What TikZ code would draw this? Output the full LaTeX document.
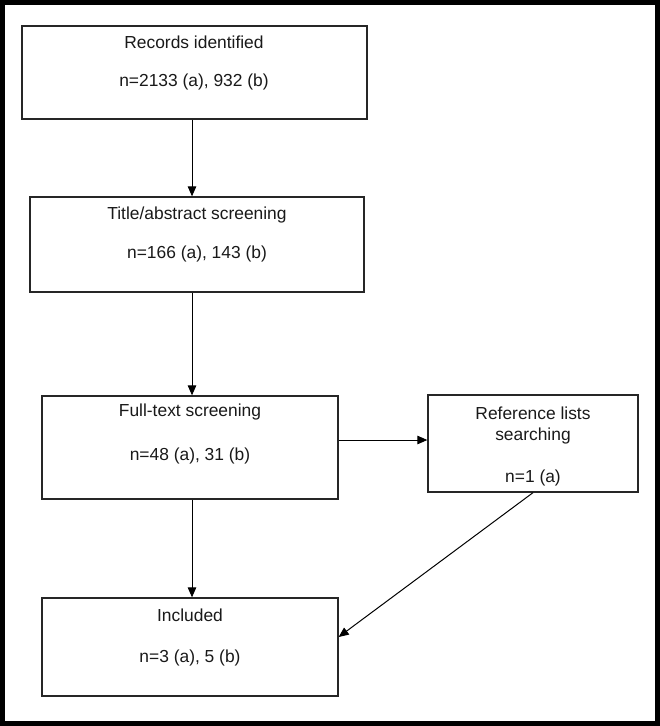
\documentclass[tikz,border=0pt]{standalone}
\usepackage{fontspec}
\setmainfont{Liberation Sans}
\usetikzlibrary{arrows.meta,calc}
\begin{document}
\begin{tikzpicture}[x=1pt,y=-1pt,
  box/.style={draw=black!85,line width=1.3pt,rectangle,inner sep=0pt},
  lbl/.style={inner sep=0pt,font=\fontsize{17.4}{20}\selectfont,text=black!90},
  arr/.style={draw=black,line width=1pt,-{Triangle[length=10pt,width=8.5pt]}}]
\useasboundingbox (0,0) rectangle (660,726);
\draw[line width=5pt] (2.5,2.5) rectangle (657.5,723.5);
% boxes
\node[box,minimum width=345pt,minimum height=93pt] (b1) at (194.5,72.5) {};
\node[box,minimum width=334pt,minimum height=95pt] (b2) at (197,244.5) {};
\node[box,minimum width=296pt,minimum height=103pt] (b3) at (190,447.5) {};
\node[box,minimum width=210pt,minimum height=97pt] (b4) at (533,443.5) {};
\node[box,minimum width=296pt,minimum height=98pt] (b5) at (190,647) {};
% texts
\node[lbl] (t1a) at (194,42) {Records identified};
\node[lbl] (t1b) at (194,82) {n=2133 (a), 932 (b)};
\node[lbl] (t2a) at (197,215) {Title/abstract screening};
\node[lbl] (t2b) at (197,254) {n=166 (a), 143 (b)};
\node[lbl] (t3a) at (190,412) {Full-text screening};
\node[lbl] (t3b) at (190,456) {n=48 (a), 31 (b)};
\node[lbl] (t4a) at (533,413) {Reference lists};
\node[lbl] (t4b) at (533,436) {searching};
\node[lbl] (t4c) at (533,478) {n=1 (a)};
\node[lbl] (t5a) at (190,615) {Included};
\node[lbl] (t5b) at (190,658) {n=3 (a), 5 (b)};
% connectors
\coordinate (cx) at (192,0);
\coordinate (cy) at (0,440);
\draw[arr] (b1.south -| cx) -- (b2.north -| cx);
\draw[arr] (b2.south -| cx) -- (b3.north -| cx);
\draw[arr] (b3.east |- cy) -- (b4.west |- cy);
\draw[arr] (b3.south -| cx) -- (b5.north -| cx);
\draw[arr] (b4.south) -- ($(b5.east)+(0,-10)$);
\end{tikzpicture}
\end{document}
